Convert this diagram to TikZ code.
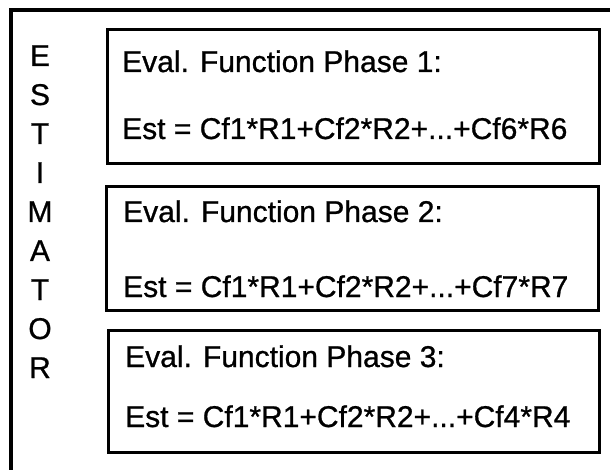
\documentclass[tikz,border=0pt]{standalone}
\usepackage{fontspec}
\setmainfont{Liberation Sans}
\newfontfamily\heavyfont[FakeBold=0.8]{Liberation Sans}
\begin{document}
\begin{tikzpicture}[x=1pt,y=-1pt,
  frameline/.style={line width=4pt,line cap=rect},
  phasebox/.style={draw,line width=3pt},
  txt/.style={anchor=base west,inner sep=0pt,font=\heavyfont\fontsize{30}{36}\selectfont},
  letter/.style={anchor=base,inner sep=0pt,font=\heavyfont\fontsize{30}{36}\selectfont}]
\useasboundingbox (0,0) rectangle (610,470);
% outer frame (top and left edges visible)
\coordinate (ftr) at (615,10);
\coordinate (ftl) at (10.5,10);
\coordinate (fbl) at (10.5,475);
\draw[frameline] (ftr) -- (ftl) -- (fbl);
% phase boxes
\draw[phasebox] (107,30) rectangle (599,164);
\draw[phasebox] (106,187) rectangle (598,310);
\draw[phasebox] (108,330) rectangle (599,452);
% texts
\node[txt] (p1a) at (122,72) {Eval. Function Phase 1:};
\node[txt] (p1b) at (122,139) {Est = Cf1*R1+Cf2*R2+...+Cf6*R6};
\node[txt] (p2a) at (123,222) {Eval. Function Phase 2:};
\node[txt] (p2b) at (123,297) {Est = Cf1*R1+Cf2*R2+...+Cf7*R7};
\node[txt] (p3a) at (125,367) {Eval. Function Phase 3:};
\node[txt] (p3b) at (125,427) {Est = Cf1*R1+Cf2*R2+...+Cf4*R4};
% vertical label
\foreach \ch [count=\i from 0] in {E,S,T,I,M,A,T,O,R}
  \node[letter] (l\i) at (40,66+39*\i) {\ch};
\end{tikzpicture}
\end{document}
